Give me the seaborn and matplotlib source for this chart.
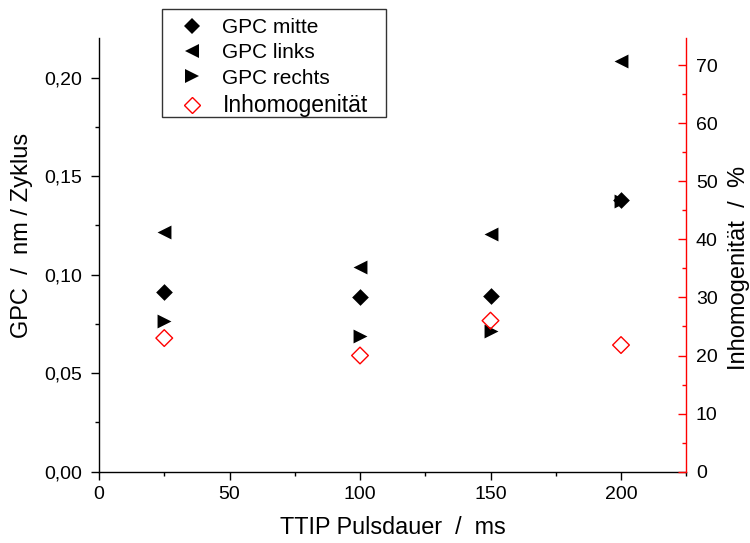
import matplotlib
matplotlib.use("Agg")
import matplotlib.pyplot as plt
import seaborn as sns
import pandas as pd
from matplotlib.ticker import MultipleLocator, FuncFormatter
from matplotlib.lines import Line2D
from matplotlib.patches import Rectangle

# ---- data ----
pulsdauer = [25, 100, 150, 200]
gpc_mitte = [0.0912, 0.0885, 0.0894, 0.1377]
gpc_links = [0.1216, 0.1038, 0.1208, 0.2085]
gpc_rechts = [0.0767, 0.0687, 0.0712, 0.1375]
inhomogenitaet = [23.0, 20.0, 26.0, 21.8]

labels = ["GPC mitte", "GPC links", "GPC rechts", "Inhomogenität"]

sns.set_theme(style="white")
plt.rcParams["font.family"] = ["Liberation Sans", "DejaVu Sans"]
plt.rcParams.update({"text.color": "black", "axes.labelcolor": "black",
                     "xtick.color": "black", "ytick.color": "black"})

fig = plt.figure(figsize=(7.5, 5.43), dpi=100)
ax = fig.add_axes([0.132, 0.1313, 0.783, 0.7982])
ax2 = ax.twinx()

df = pd.DataFrame({"x": pulsdauer, "mitte": gpc_mitte, "links": gpc_links,
                   "rechts": gpc_rechts, "inh": inhomogenitaet})

D_MS = 8.5
T_MS = 10
sns.scatterplot(data=df, x="x", y="rechts", marker=">", s=T_MS**2, color="black",
                linewidth=0, ax=ax, zorder=3)
sns.scatterplot(data=df, x="x", y="links", marker="<", s=T_MS**2, color="black",
                linewidth=0, ax=ax, zorder=3)
sns.scatterplot(data=df, x="x", y="mitte", marker="D", s=D_MS**2, color="black",
                linewidth=0, ax=ax, zorder=4)
sns.scatterplot(data=df, x="x", y="inh", marker="D", s=D_MS**2, facecolor="none",
                edgecolor="red", linewidth=1.0, ax=ax2, zorder=3)

ax.set_xlim(0, 225)
ax.set_ylim(0, 0.22)
ax2.set_ylim(0, 74.6)

ax.xaxis.set_major_locator(MultipleLocator(50))
ax.xaxis.set_minor_locator(MultipleLocator(25))
ax.yaxis.set_major_locator(MultipleLocator(0.05))
ax.yaxis.set_minor_locator(MultipleLocator(0.025))
ax.yaxis.set_major_formatter(FuncFormatter(lambda v, p: f"{v:.2f}".replace(".", ",")))
ax2.yaxis.set_major_locator(MultipleLocator(10))
ax2.yaxis.set_minor_locator(MultipleLocator(5))

for a in (ax, ax2):
    a.spines["top"].set_visible(False)
    a.grid(False)
    a.set_facecolor("none")
ax.spines["right"].set_visible(False)
ax2.spines["left"].set_visible(False)
ax2.spines["bottom"].set_visible(False)
ax.spines["left"].set_color("black")
ax.spines["bottom"].set_color("black")
ax2.spines["right"].set_color("red")
for s in ("left", "bottom"):
    ax.spines[s].set_linewidth(1.0)
ax2.spines["right"].set_linewidth(1.0)

ax.tick_params(axis="both", which="major", direction="out", length=6, width=1,
               labelsize=14, color="black", labelcolor="black", left=True, bottom=True)
ax.tick_params(axis="y", which="major", pad=6.5)
ax.tick_params(axis="x", which="major", pad=4)
ax.tick_params(axis="both", which="minor", direction="out", length=3, width=1,
               color="black", left=True, bottom=True)
ax2.tick_params(axis="y", which="major", direction="in", length=6, width=1,
                labelsize=14, pad=7, color="red", labelcolor="black", right=True)
ax2.tick_params(axis="y", which="minor", direction="in", length=3, width=1,
                color="red", right=True)

ax.set_xlabel("TTIP Pulsdauer  /  ms", fontsize=16.8, labelpad=10, color="black")
ax.set_ylabel("GPC  /  nm / Zyklus", fontsize=17, color="black")
ax.yaxis.set_label_coords(-0.112, 0.544)
ax2.set_ylabel("Inhomogenität  /  %", fontsize=17, color="black")
ax2.yaxis.set_label_coords(1.0715, 0.471)

handles = [
    Line2D([], [], marker="D", color="black", linestyle="none", markersize=D_MS, markeredgewidth=0),
    Line2D([], [], marker="<", color="black", linestyle="none", markersize=T_MS, markeredgewidth=0),
    Line2D([], [], marker=">", color="black", linestyle="none", markersize=T_MS, markeredgewidth=0),
    Line2D([], [], marker="D", markerfacecolor="none", markeredgecolor="red",
           linestyle="none", markersize=D_MS, markeredgewidth=1.0),
]
leg = fig.legend(handles, labels, loc="upper left", bbox_to_anchor=(162 / 750, 1 - 12 / 543),
                 frameon=False, fontsize=15, handlelength=2.3, labelcolor="black",
                 handletextpad=0.3, labelspacing=0.3, borderpad=0.3, borderaxespad=0)
leg.get_texts()[3].set_fontsize(16.5)

fig.patches.append(Rectangle((162 / 750, 1 - 117 / 543), 224 / 750, 108 / 543,
                             transform=fig.transFigure, fill=False,
                             edgecolor="#333333", linewidth=1.0))

fig.savefig("out.png", dpi=100)
